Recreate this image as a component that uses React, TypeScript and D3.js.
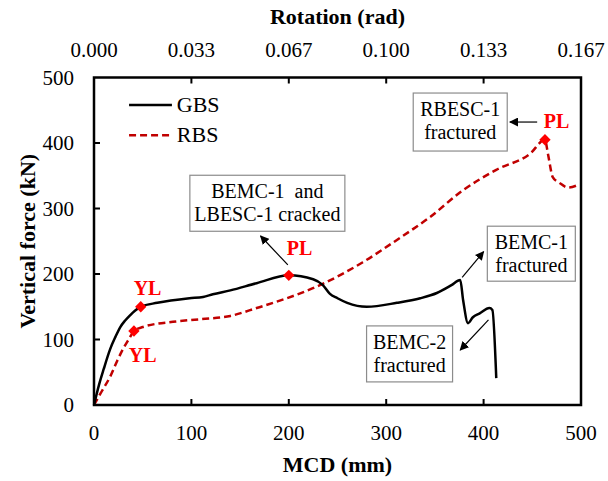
import React from "react";
import * as d3 from "d3";

const gbsX = [0, 5, 10, 16.5, 22, 27, 32, 37, 42, 48, 65, 98, 112, 122, 140, 167, 200, 225, 235, 242, 250, 260, 280, 311, 335, 352, 367, 376, 379, 384, 389, 396, 406, 409, 413];
const gbsY = [0, 30, 55, 85, 104, 119, 129, 137, 144, 150, 156, 163, 165, 169, 175, 186, 198, 192, 183, 170, 163, 156, 150, 156, 163, 171, 183, 191, 160, 125, 134, 140, 148, 145, 41];
const rbsX = [0, 8, 16.5, 24, 30, 36, 41, 50, 81, 109, 140, 167, 198, 232, 276, 311, 345, 379, 413, 448, 463, 466, 471, 478, 487, 497];
const rbsY = [0, 21, 43, 68, 86, 101, 113, 119, 127, 131, 136, 148, 163, 183, 218, 252, 287, 328, 359, 384, 405, 384, 348, 339, 332, 336];

const xTicks = [0, 100, 200, 300, 400, 500];
const yTicks = [0, 100, 200, 300, 400, 500];
const topTickLabels = ["0.000", "0.033", "0.067", "0.100", "0.133", "0.167"];

const markers = [
  { x: 48, y: 150, label: "YL", lx: 55, ly: 168 },
  { x: 200, y: 198, label: "PL", lx: 211, ly: 229 },
  { x: 41, y: 113, label: "YL", lx: 50, ly: 66 },
  { x: 463, y: 405, label: "PL", lx: 475, ly: 423 },
];

const boxes = [
  { cx: 178, cy: 308, w: 155, h: 56, lines: ["BEMC-1  and", "LBESC-1 cracked"] },
  { cx: 376, cy: 432, w: 94, h: 58, lines: ["RBESC-1", "fractured"] },
  { cx: 449, cy: 231, w: 88, h: 55, lines: ["BEMC-1", "fractured"] },
  { cx: 324, cy: 78, w: 86, h: 56, lines: ["BEMC-2", "fractured"] },
];

const arrows = [
  { x1: 199, y1: 214, x2: 171, y2: 258 },
  { x1: 455, y1: 432, x2: 427, y2: 432 },
  { x1: 378, y1: 195, x2: 400, y2: 234 },
  { x1: 405, y1: 130, x2: 376, y2: 84 },
];

const W = 608, H = 481;
const left = 94, right = 581, top = 77.5, bottom = 405;
const FONT = "Times New Roman, Liberation Serif, serif";

export default function App() {
  const x = d3.scaleLinear().domain([0, 500]).range([left, right]);
  const y = d3.scaleLinear().domain([0, 500]).range([bottom, top]);
  const line = d3.line<[number, number]>().x(d => x(d[0])).y(d => y(d[1])).curve(d3.curveMonotoneX);
  const gbs = gbsX.map((v, i) => [v, gbsY[i]] as [number, number]);
  const rbs = rbsX.map((v, i) => [v, rbsY[i]] as [number, number]);
  const diamond = d3.symbol().type(d3.symbolSquare).size(64)();

  return (
    <svg width={W} height={H} style={{ position: "absolute", left: 0, top: 0, background: "#fff", fontFamily: FONT }}>
      <defs>
        <marker id="ah" viewBox="0 0 10 10" refX="9" refY="5" markerWidth="9" markerHeight="9" orient="auto" markerUnits="userSpaceOnUse">
          <path d="M0,0 L10,5 L0,10 z" fill="#000" />
        </marker>
      </defs>
      {xTicks.slice(1, -1).map(t => (
        <g key={"xt" + t}>
          <line x1={x(t)} x2={x(t)} y1={bottom} y2={bottom - 6} stroke="#000" strokeWidth={2} />
          <line x1={x(t)} x2={x(t)} y1={top} y2={top + 6} stroke="#000" strokeWidth={2} />
        </g>
      ))}
      {yTicks.slice(1, -1).map(t => (
        <line key={"yt" + t} x1={left} x2={left + 6} y1={y(t)} y2={y(t)} stroke="#000" strokeWidth={2} />
      ))}
      {xTicks.map(t => (
        <text key={"xl" + t} x={x(t)} y={440} textAnchor="middle" fontSize={21}>{t}</text>
      ))}
      {xTicks.map((t, i) => (
        <text key={"tl" + t} x={x(t)} y={57} textAnchor="middle" fontSize={21}>{topTickLabels[i]}</text>
      ))}
      {yTicks.map(t => (
        <text key={"yl" + t} x={74} y={y(t) + 7} textAnchor="end" fontSize={21}>{t}</text>
      ))}
      <text x={(left + right) / 2} y={472} textAnchor="middle" fontSize={22} fontWeight="bold">MCD (mm)</text>
      <text x={(left + right) / 2} y={24} textAnchor="middle" fontSize={22} fontWeight="bold">Rotation (rad)</text>
      <text transform={`translate(35,${(top + bottom) / 2}) rotate(-90)`} textAnchor="middle" fontSize={22} fontWeight="bold">Vertical force (kN)</text>

      <path d={line(rbs) || ""} fill="none" stroke="#c00000" strokeWidth={2.5} strokeDasharray="7,4" />
      <path d={line(gbs) || ""} fill="none" stroke="#000" strokeWidth={2.5} />

      {boxes.map((b, i) => (
        <g key={"b" + i}>
          <rect x={x(b.cx) - b.w / 2} y={y(b.cy) - b.h / 2} width={b.w} height={b.h} fill="#fff" stroke="#8c8c8c" strokeWidth={1.2} />
          {b.lines.map((l, j) => (
            <text key={j} x={x(b.cx)} y={y(b.cy) - b.h / 2 + 23 + j * 23} textAnchor="middle" fontSize={20} style={{ whiteSpace: "pre" }}>{l}</text>
          ))}
        </g>
      ))}
      {arrows.map((a, i) => (
        <line key={"a" + i} x1={x(a.x1)} y1={y(a.y1)} x2={x(a.x2)} y2={y(a.y2)} stroke="#000" strokeWidth={1.2} markerEnd="url(#ah)" />
      ))}

      {markers.map((m, i) => (
        <g key={"m" + i}>
          <path d={diamond || ""} transform={`translate(${x(m.x)},${y(m.y)}) rotate(45)`} fill="#ff0000" />
          <text x={x(m.lx)} y={y(m.ly)} textAnchor="middle" fontSize={20} fontWeight="bold" fill="#ff0000">{m.label}</text>
        </g>
      ))}

      <line x1={x(36)} x2={x(80)} y1={y(458)} y2={y(458)} stroke="#000" strokeWidth={2.5} />
      <text x={x(85)} y={y(458) + 7} fontSize={22}>GBS</text>
      <line x1={x(36)} x2={x(80)} y1={y(412)} y2={y(412)} stroke="#c00000" strokeWidth={2.5} strokeDasharray="7,4" />
      <text x={x(85)} y={y(412) + 7} fontSize={22}>RBS</text>

      <rect x={left} y={top} width={right - left} height={bottom - top} fill="none" stroke="#000" strokeWidth={2.5} />
    </svg>
  );
}
